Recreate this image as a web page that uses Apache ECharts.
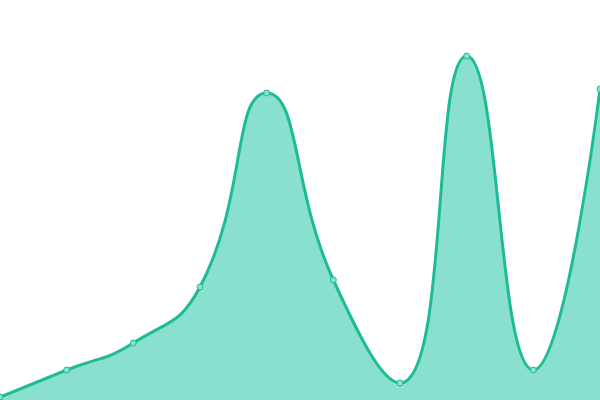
<!DOCTYPE html>
<html>
<head>
<meta charset="utf-8">
<script src="https://cdn.jsdelivr.net/npm/echarts@6/dist/echarts.min.js"></script>
<style>
html,body{margin:0;padding:0;background:#fff;}
#chart{width:600px;height:400px;}
</style>
</head>
<body>
<div id="chart"></div>
<script>
// 类目与数值
var categories = ['1','2','3','4','5','6','7','8','9','10'];
var values = [3, 30, 57, 113, 307, 120, 17, 344, 30, 311];

var myChart = echarts.init(document.getElementById('chart'));
var option = {
	animation: false,
	grid: {left: 0, right: 0, top: 0, bottom: 0},
	xAxis: {
		type: 'category',
		boundaryGap: false,
		data: categories,
		show: false
	},
	yAxis: {
		type: 'value',
		min: 0,
		max: 400,
		show: false
	},
	series: [
		{
			type: 'line',
			data: values,
			smooth: true,
			symbol: 'circle',
			symbolSize: 6,
			lineStyle: {color: '#1dbb96', width: 3},
			itemStyle: {color: '#8ae0cf', borderColor: '#1dbb96', borderWidth: 1},
			areaStyle: {color: '#8ae0cf', opacity: 1}
		}
	]
};
myChart.setOption(option);
</script>
</body>
</html>
